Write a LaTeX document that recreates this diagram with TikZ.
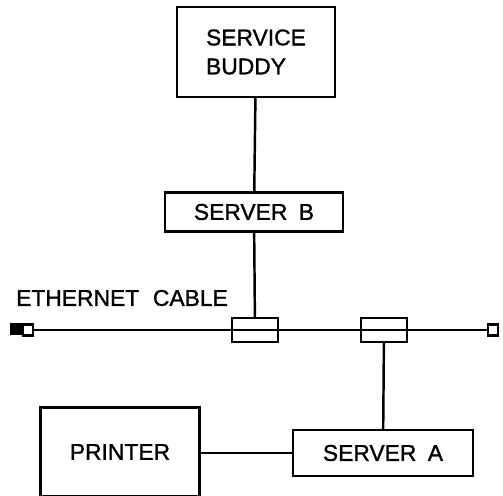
\documentclass[tikz,border=0pt]{standalone}
\usepackage{fontspec}
\setmainfont{Liberation Sans}[FakeBold=1.2]
\begin{document}
\begin{tikzpicture}[x=0.02cm, y=-0.02cm, line width=1.4pt,
    box/.style={draw, inner sep=0pt, font=\fontsize{13}{16.5}\selectfont},
    tap/.style={draw, inner sep=0pt, minimum width=0.92cm, minimum height=0.48cm},
    term/.style={draw, inner sep=0pt, minimum width=0.21cm, minimum height=0.22cm}]
        \useasboundingbox (0,0) rectangle (503,496);

        \node[box, minimum width=3.16cm, minimum height=1.8cm, align=left] (buddy) at (256,52) {SERVICE\\BUDDY};
        \node[box, minimum width=3.56cm, minimum height=0.78cm] (srvb) at (254,212) {SERVER\hspace{0.5em}B};
        \node[box, minimum width=3.6cm, minimum height=0.92cm] (srva) at (383,453) {SERVER\hspace{0.5em}A};
        \node[box, minimum width=3.18cm, minimum height=1.78cm] (printer) at (120,452) {PRINTER};
        \node[font=\fontsize{13}{16}\selectfont] (label) at (122,298) {ETHERNET\hspace{0.6em}CABLE};

        \node[term] (tl) at (28,330) {};
        \fill (tl.north west) rectangle ++(-12,12);
        \node[term] (tr) at (493,330) {};
        \node[tap] (t1) at (255,330) {};
        \node[tap] (t2) at (384,330) {};

        \draw (tl) -- (tr);
        \draw (buddy) -- (srvb);
        \draw (srvb) -- (t1);
        \draw (t2) -- (srva);
        \draw (printer.east |- srva.west) -- (srva.west);
      \end{tikzpicture}
\end{document}
